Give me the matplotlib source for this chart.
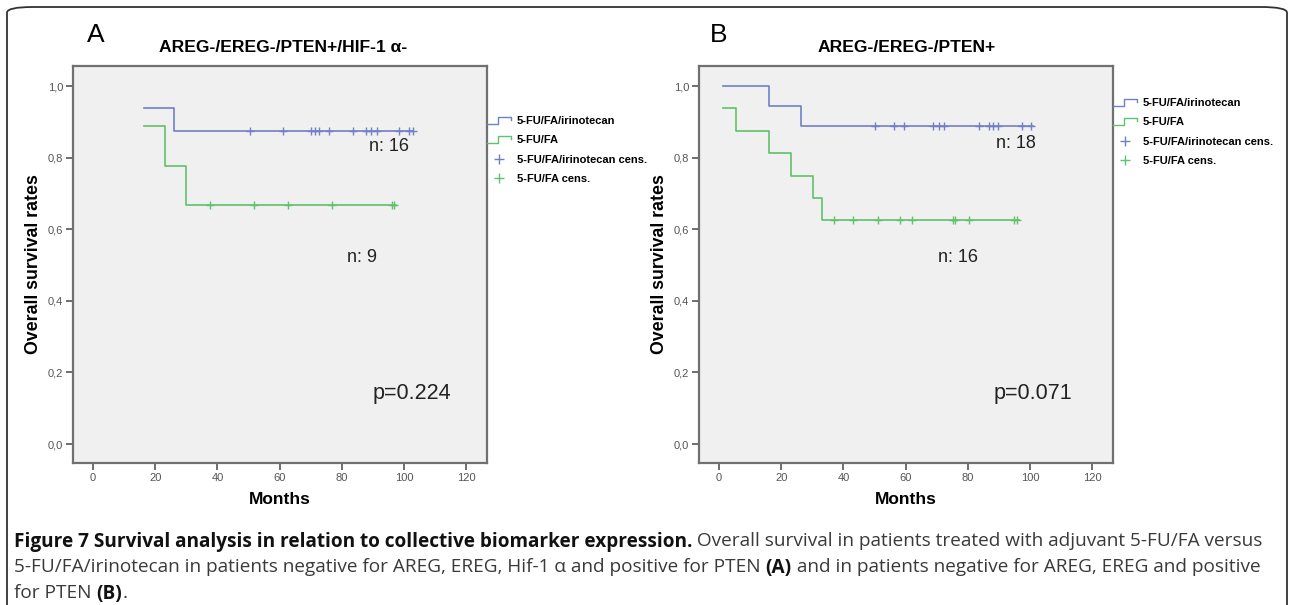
import matplotlib
matplotlib.use("Agg")
import matplotlib.pyplot as plt
import numpy as np
from matplotlib.lines import Line2D
from matplotlib.legend_handler import HandlerLine2D
from matplotlib.patches import FancyBboxPatch

# ---- data (months, survival fraction) ----
a_iri_t = [16.5, 26.0, 102.8]
a_iri_s = [0.9375, 0.875, 0.875]
a_iri_cens = [50.6, 61.0, 70.0, 71.5, 72.5, 76.0, 83.4, 87.7, 89.4, 91.4,
              98.2, 101.7, 102.8]

a_fa_t = [16.5, 23.0, 30.0, 97.5]
a_fa_s = [0.889, 0.778, 0.667, 0.667]
a_fa_cens = [37.6, 51.6, 62.6, 76.7, 96.1, 96.8]

b_iri_t = [1.4, 16.1, 26.3, 100.8]
b_iri_s = [1.0, 0.944, 0.889, 0.889]
b_iri_cens = [50.1, 56.2, 59.5, 68.9, 70.6, 72.2, 83.5, 86.9, 88.2, 89.5,
              97.3, 100.2]

b_fa_t = [1.4, 5.4, 16.1, 23.3, 30.2, 33.0, 96.5]
b_fa_s = [0.9375, 0.875, 0.8125, 0.75, 0.6875, 0.625, 0.625]
b_fa_cens = [37.0, 43.2, 51.2, 58.2, 62.1, 75.1, 75.9, 80.2, 94.9, 95.7]

x_ticks = [0, 20, 40, 60, 80, 100, 120]
y_ticks = [0.0, 0.2, 0.4, 0.6, 0.8, 1.0]
y_ticklabels = ["0,0", "0,2", "0,4", "0,6", "0,8", "1,0"]
legend_labels = ["5-FU/FA/irinotecan", "5-FU/FA",
                 "5-FU/FA/irinotecan cens.", "5-FU/FA cens."]

blue = "#7080c6"
green = "#5fc26c"
spss = ["Liberation Sans", "DejaVu Sans"]


class StepHandler(HandlerLine2D):
    """ small '_|~|' step icon like the SPSS legend """

    def create_artists(self, legend, orig_handle, xdescent, ydescent,
                       width, height, fontsize, trans):
        x0 = -xdescent
        y0 = -ydescent
        xs = [x0, x0 + width * 0.45, x0 + width * 0.45, x0 + width,
              x0 + width]
        ys = [y0, y0, y0 + height * 0.9, y0 + height * 0.9,
              y0 + height * 0.5]
        line = Line2D(xs, ys, color=orig_handle.get_color(), lw=1)
        line.set_transform(trans)
        return [line]


def surv_at(times, surv, t):
    idx = np.searchsorted(times, t, side="right") - 1
    return np.array(surv)[np.clip(idx, 0, len(surv) - 1)]


def km_panel(ax, iri_t, iri_s, iri_c, fa_t, fa_s, fa_c, leg_top):
    ax.set_facecolor("#f0f0f0")
    ax.step(iri_t, iri_s, where="post", color=blue, lw=1.2)
    ax.step(fa_t, fa_s, where="post", color=green, lw=1.2)
    ax.plot(iri_c, surv_at(iri_t, iri_s, iri_c), ls="none", marker="+",
            color=blue, ms=6, mew=1)
    ax.plot(fa_c, surv_at(fa_t, fa_s, fa_c), ls="none", marker="+",
            color=green, ms=6, mew=1)

    ax.set_xlim(-6.4, 126.6)
    ax.set_ylim(-0.053, 1.056)
    ax.set_xticks(x_ticks)
    ax.set_xticklabels([str(v) for v in x_ticks])
    ax.set_yticks(y_ticks)
    ax.set_yticklabels(y_ticklabels)
    ax.tick_params(direction="out", length=5, width=1.2, color="#555555",
                   labelsize=8, labelcolor="#555555", pad=2)
    for lab in ax.get_xticklabels() + ax.get_yticklabels():
        lab.set_family(spss)
    for sp in ax.spines.values():
        sp.set_color("#707070")
        sp.set_linewidth(1.6)

    ax.set_xlabel("Months", fontsize=12.5, fontweight="bold",
                  family=spss, labelpad=7)
    ax.set_ylabel("Overall survival rates", fontsize=12.8,
                  fontweight="bold", family=spss, labelpad=4)

    handles = [Line2D([], [], color=blue), Line2D([], [], color=green),
               Line2D([], [], color=blue, ls="none", marker="+", ms=7),
               Line2D([], [], color=green, ls="none", marker="+", ms=7)]
    ax.legend(handles, legend_labels, loc="upper left",
              bbox_to_anchor=(1.0, leg_top), frameon=False, borderpad=0,
              borderaxespad=0, handlelength=2.2, handletextpad=0.5,
              labelspacing=0.85, prop={"family": spss, "weight": "bold",
                                       "size": 8},
              handler_map={handles[0]: StepHandler(),
                           handles[1]: StepHandler()})


fig = plt.figure(figsize=(12.93, 6.05), dpi=100)
fig.patch.set_facecolor("white")

ax_a = fig.add_axes([73 / 1293, 142 / 605, 414 / 1293, 397 / 605])
ax_b = fig.add_axes([699 / 1293, 142 / 605, 414 / 1293, 397 / 605])

km_panel(ax_a, a_iri_t, a_iri_s, a_iri_cens, a_fa_t, a_fa_s, a_fa_cens,
         0.875)
km_panel(ax_b, b_iri_t, b_iri_s, b_iri_cens, b_fa_t, b_fa_s, b_fa_cens,
         0.92)

# panel letters and titles
fig.text(96 / 1293, 1 - 35 / 605, "A", fontsize=19, family=spss,
         ha="center", va="center")
fig.text(283 / 1293, 1 - 47 / 605, "AREG-/EREG-/PTEN+/HIF-1 α-",
         fontsize=12.6, fontweight="bold", family=spss, ha="center",
         va="center")
fig.text(719 / 1293, 1 - 35 / 605, "B", fontsize=19, family=spss,
         ha="center", va="center")
fig.text(907 / 1293, 1 - 47 / 605, "AREG-/EREG-/PTEN+",
         fontsize=12.6, fontweight="bold", family=spss, ha="center",
         va="center")

# n / p annotations (data coords)
ann = dict(family=spss, color="#222222", va="center")
ax_a.text(101.5, 0.83, "n: 16", ha="right", fontsize=13, **ann)
ax_a.text(86.6, 0.522, "n: 9", ha="center", fontsize=13, **ann)
ax_a.text(102.6, 0.14, "p=0.224", ha="center", fontsize=15.5, **ann)
ax_b.text(101.7, 0.84, "n: 18", ha="right", fontsize=13, **ann)
ax_b.text(76.9, 0.522, "n: 16", ha="center", fontsize=13, **ann)
ax_b.text(100.9, 0.142, "p=0.071", ha="center", fontsize=15.5, **ann)

# outer rounded frame
frame = FancyBboxPatch((7 / 1293, -0.1), 1280 / 1293, 1.1 - 7 / 605,
                       boxstyle="round,pad=0,rounding_size=0.02",
                       transform=fig.transFigure, fill=False,
                       edgecolor="#333333", lw=1.3, mutation_aspect=605 / 1293)
fig.patches.append(frame)

# caption with mixed bold / regular pieces
cap_font = ["Open Sans", "DejaVu Sans"]
cap_lines = [
    [("Figure 7 Survival analysis in relation to collective biomarker "
      "expression.", "bold"),
     (" Overall survival in patients treated with adjuvant 5-FU/FA versus",
      "normal")],
    [("5-FU/FA/irinotecan in patients negative for AREG, EREG, Hif-1 α and "
      "positive for PTEN ", "normal"),
     ("(A)", "bold"),
     (" and in patients negative for AREG, EREG and positive", "normal")],
    [("for PTEN ", "normal"), ("(B)", "bold"), (".", "normal")],
]
cap_y = [539, 565, 591]
cap_size = {"bold": 13.7, "normal": 13.7}

fig.canvas.draw()
renderer = fig.canvas.get_renderer()
for pieces, yp in zip(cap_lines, cap_y):
    x = 14 / 1293
    for txt, wt in pieces:
        t = fig.text(x, 1 - yp / 605, txt, fontsize=cap_size[wt],
                     fontweight=wt, family=cap_font, va="center_baseline",
                     ha="left",
                     color="#111111" if wt == "bold" else "#3a3a3a")
        bb = t.get_window_extent(renderer)
        x = fig.transFigure.inverted().transform((bb.x1, bb.y0))[0]

fig.savefig("out.png", dpi=100)
